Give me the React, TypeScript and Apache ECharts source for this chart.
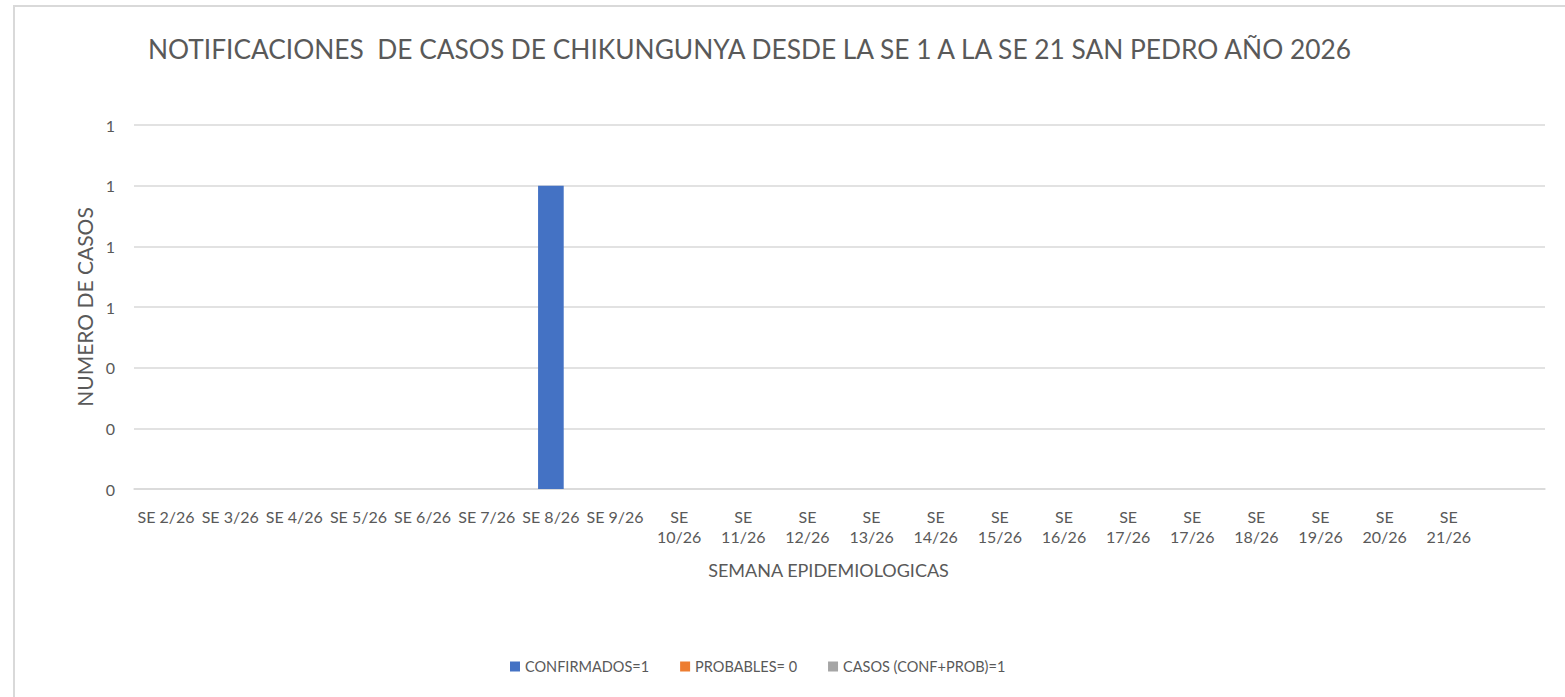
import React, { useEffect, useRef } from "react";
import * as echarts from "echarts";

const categories = [
  "SE 2/26", "SE 3/26", "SE 4/26", "SE 5/26", "SE 6/26", "SE 7/26", "SE 8/26", "SE 9/26",
  "SE 10/26", "SE 11/26", "SE 12/26", "SE 13/26", "SE 14/26", "SE 15/26", "SE 16/26", "SE 17/26",
  "SE 17/26", "SE 18/26", "SE 19/26", "SE 20/26", "SE 21/26", "",
];
const confirmados = [0, 0, 0, 0, 0, 0, 1, 0, 0, 0, 0, 0, 0, 0, 0, 0, 0, 0, 0, 0, 0, 0];
const probables = [0, 0, 0, 0, 0, 0, 0, 0, 0, 0, 0, 0, 0, 0, 0, 0, 0, 0, 0, 0, 0, 0];
const casos = [0, 0, 0, 0, 0, 0, 0, 0, 0, 0, 0, 0, 0, 0, 0, 0, 0, 0, 0, 0, 0, 0];
const seriesNames = ["CONFIRMADOS=1", "PROBABLES= 0", "CASOS (CONF+PROB)=1"];

const TITLE = "NOTIFICACIONES  DE CASOS DE CHIKUNGUNYA DESDE LA SE 1 A LA SE 21 SAN PEDRO AÑO 2026";
const FONT = "Lato";
const GREY = "#595959";

export default function App() {
  const ref = useRef<HTMLDivElement>(null);
  useEffect(() => {
    document.body.style.margin = "0";
    const chart = echarts.init(ref.current!, null, { renderer: "svg" });
    chart.setOption({
      animation: false,
      backgroundColor: "#ffffff",
      textStyle: { fontFamily: FONT, color: GREY },
      title: {
        text: TITLE,
        left: 143,
        top: 31,
        textStyle: { fontFamily: FONT, fontSize: 26.3, fontWeight: "normal", color: GREY },
      },
      graphic: [
        { type: "line", shape: { x1: 13, y1: 6, x2: 1565, y2: 6 }, style: { stroke: "#d9d9d9", lineWidth: 2 } },
        { type: "line", shape: { x1: 14, y1: 6, x2: 14, y2: 697 }, style: { stroke: "#d9d9d9", lineWidth: 2 } },
      ],
      legend: {
        left: 505,
        top: 654,
        itemWidth: 10,
        itemHeight: 10,
        itemGap: 31,
        icon: "rect",
        textStyle: { fontFamily: FONT, fontSize: 14.5, color: GREY },
        data: seriesNames,
      },
      grid: { left: 134, right: 20, top: 125, bottom: 208, containLabel: false },
      xAxis: {
        type: "category",
        data: categories,
        name: "SEMANA EPIDEMIOLOGICAS",
        nameLocation: "middle",
        nameGap: 72,
        nameTextStyle: { fontFamily: FONT, fontSize: 18, color: GREY, padding: [0, 22, 0, 0] },
        axisLine: { lineStyle: { color: "#d9d9d9", width: 1.5 } },
        axisTick: { show: false },
        axisLabel: {
          interval: 0,
          margin: 17,
          fontSize: 16,
          lineHeight: 20,
          color: GREY,
          fontFamily: FONT,
          formatter: (v: string) => (v.length > 7 ? v.replace(" ", "\n") : v),
        },
      },
      yAxis: {
        type: "value",
        min: 0,
        max: 1.2,
        interval: 0.2,
        name: "NUMERO DE CASOS",
        nameLocation: "middle",
        nameGap: 36,
        nameTextStyle: { fontFamily: FONT, fontSize: 21, color: GREY },
        axisLine: { show: false },
        axisTick: { show: false },
        splitLine: { lineStyle: { color: "#d9d9d9", width: 1.5 } },
        axisLabel: {
          margin: 19,
          fontSize: 16,
          color: GREY,
          fontFamily: FONT,
          formatter: (v: number) => String(Math.round(v)),
        },
      },
      series: [
        { name: seriesNames[0], type: "bar", stack: "all", data: confirmados, barWidth: "40%", itemStyle: { color: "#4472C4" } },
        { name: seriesNames[1], type: "bar", stack: "all", data: probables, barWidth: "40%", itemStyle: { color: "#ED7D31" } },
        { name: seriesNames[2], type: "bar", stack: "all", data: casos, barWidth: "40%", itemStyle: { color: "#A5A5A5" } },
      ],
    });
    return () => chart.dispose();
  }, []);
  return <div ref={ref} style={{ width: 1565, height: 697 }} />;
}
